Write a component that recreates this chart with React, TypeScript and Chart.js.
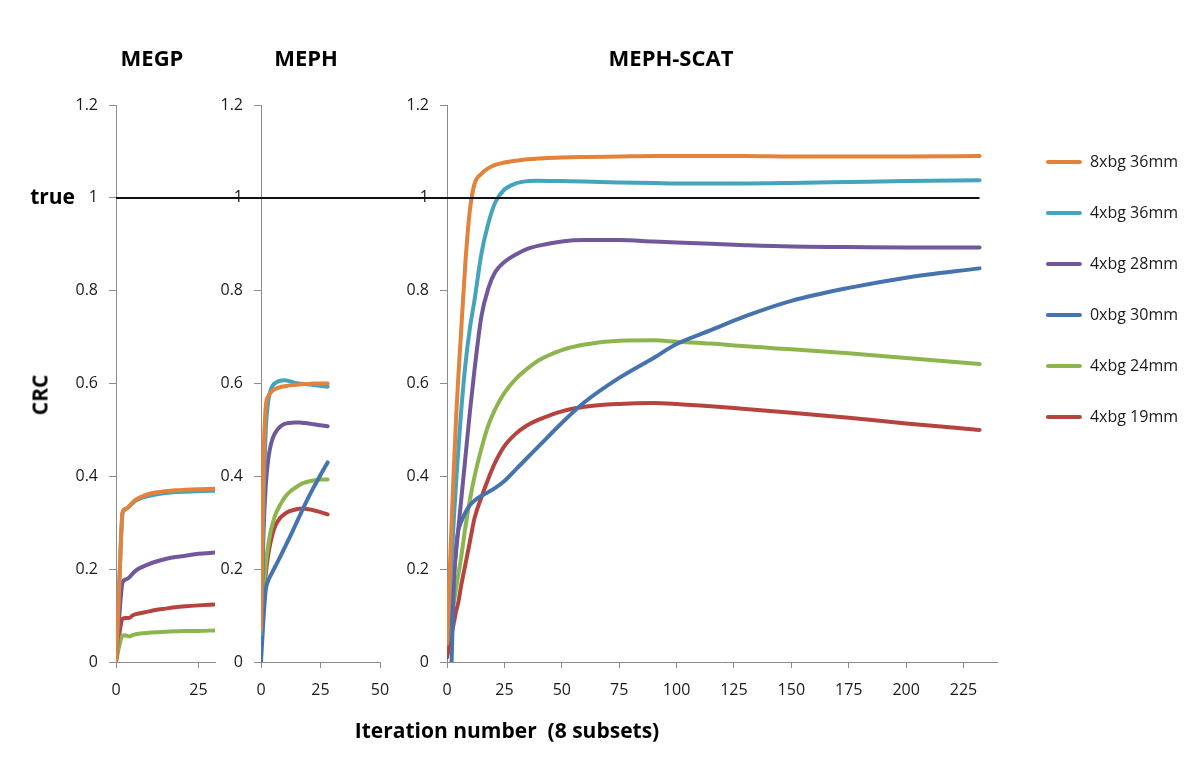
import React, { useEffect, useRef } from "react";
import { Chart, registerables } from "chart.js";

Chart.register(...registerables);

// ---------------- data ----------------
const SERIES_NAMES = ["8xbg 36mm", "4xbg 36mm", "4xbg 28mm", "0xbg 30mm", "4xbg 24mm", "4xbg 19mm"];
const SERIES_COLORS = ["#E3823B", "#45A3BC", "#71589A", "#4673AE", "#8DB54E", "#B5443F"];

const PANEL_TITLES = ["MEGP", "MEPH", "MEPH-SCAT"];
const Y_AXIS_TITLE = "CRC";
const X_AXIS_TITLE = "Iteration number  (8 subsets)";
const TRUE_LABEL = "true";
const TRUE_VALUE = 1;

const Y_TICKS = [0, 0.2, 0.4, 0.6, 0.8, 1, 1.2];
const MEGP_X_TICKS = [0, 25];
const MEPH_X_TICKS = [0, 25, 50];
const SCAT_X_TICKS = [0, 25, 50, 75, 100, 125, 150, 175, 200, 225];
const MEGP_X_MAX = 30;
const MEPH_X_MAX = 50;
const SCAT_X_MAX = 240;

// MEGP panel
const MEGP_ITER = [0, 1, 2, 3, 4, 5, 6, 8, 10, 12, 15, 18, 21, 25, 30];
const MEGP_8XBG_36 = [0, 0.17, 0.322, 0.33, 0.336, 0.344, 0.35, 0.357, 0.362, 0.365, 0.368, 0.37, 0.371, 0.372, 0.373];
const MEGP_4XBG_36 = [0, 0.17, 0.322, 0.33, 0.335, 0.342, 0.348, 0.354, 0.358, 0.361, 0.364, 0.366, 0.367, 0.368, 0.369];
const MEGP_4XBG_28 = [0, 0.1, 0.172, 0.178, 0.182, 0.19, 0.197, 0.205, 0.211, 0.216, 0.222, 0.226, 0.229, 0.233, 0.236];
const MEGP_4XBG_24 = [0, 0.035, 0.057, 0.057, 0.055, 0.058, 0.06, 0.062, 0.063, 0.064, 0.065, 0.066, 0.067, 0.067, 0.068];
const MEGP_4XBG_19 = [0, 0.06, 0.093, 0.095, 0.095, 0.1, 0.103, 0.106, 0.109, 0.112, 0.115, 0.118, 0.12, 0.122, 0.124];

// MEPH panel
const MEPH_ITER = [0, 1, 2, 3, 4, 5, 6, 8, 10, 12, 14, 16, 18, 20, 22, 25, 28];
const MEPH_8XBG_36 = [0.07, 0.42, 0.55, 0.572, 0.58, 0.585, 0.588, 0.592, 0.594, 0.596, 0.597, 0.598, 0.599, 0.599, 0.6, 0.6, 0.6];
const MEPH_4XBG_36 = [0.06, 0.33, 0.5, 0.56, 0.585, 0.596, 0.601, 0.606, 0.607, 0.605, 0.602, 0.6, 0.599, 0.598, 0.597, 0.595, 0.593];
const MEPH_4XBG_28 = [0.06, 0.27, 0.38, 0.435, 0.465, 0.483, 0.494, 0.507, 0.513, 0.515, 0.516, 0.516, 0.515, 0.514, 0.512, 0.51, 0.508];
const MEPH_0XBG_30 = [0, 0.09, 0.155, 0.175, 0.186, 0.196, 0.206, 0.226, 0.247, 0.268, 0.29, 0.312, 0.334, 0.355, 0.375, 0.403, 0.43];
const MEPH_4XBG_24 = [0.06, 0.14, 0.21, 0.25, 0.28, 0.3, 0.317, 0.338, 0.355, 0.366, 0.374, 0.381, 0.386, 0.389, 0.391, 0.393, 0.393];
const MEPH_4XBG_19 = [0.055, 0.13, 0.19, 0.23, 0.258, 0.278, 0.293, 0.31, 0.319, 0.325, 0.328, 0.33, 0.33, 0.329, 0.327, 0.323, 0.318];

// MEPH-SCAT panel
const SCAT_ITER = [0, 1, 2, 3, 4, 5, 6, 8, 10, 12, 15, 18, 21, 25, 30, 35, 40, 50, 60, 75, 90, 100, 115, 130, 150, 175, 200, 232];
const SCAT_8XBG_36 = [0.04, 0.17, 0.3, 0.42, 0.53, 0.62, 0.7, 0.86, 0.975, 1.03, 1.052, 1.064, 1.071, 1.076, 1.08, 1.083, 1.085, 1.087, 1.088, 1.089, 1.09, 1.09, 1.09, 1.09, 1.089, 1.089, 1.089, 1.09];
const SCAT_4XBG_36 = [0.04, 0.13, 0.22, 0.31, 0.39, 0.46, 0.53, 0.64, 0.72, 0.78, 0.88, 0.945, 0.99, 1.018, 1.031, 1.036, 1.037, 1.036, 1.035, 1.033, 1.032, 1.031, 1.031, 1.031, 1.032, 1.034, 1.036, 1.038];
const SCAT_4XBG_28 = [0.04, 0.09, 0.14, 0.19, 0.24, 0.29, 0.34, 0.44, 0.54, 0.63, 0.745, 0.805, 0.84, 0.862, 0.878, 0.89, 0.897, 0.906, 0.909, 0.909, 0.906, 0.904, 0.901, 0.898, 0.895, 0.894, 0.893, 0.893];
const SCAT_0XBG_30 = [null, null, 0, 0.17, 0.25, 0.285, 0.3, 0.322, 0.338, 0.348, 0.358, 0.366, 0.375, 0.39, 0.415, 0.44, 0.465, 0.515, 0.56, 0.612, 0.655, 0.685, 0.715, 0.745, 0.778, 0.806, 0.828, 0.848];
const SCAT_4XBG_24 = [0.04, 0.07, 0.1, 0.13, 0.16, 0.19, 0.22, 0.29, 0.35, 0.4, 0.46, 0.51, 0.545, 0.58, 0.61, 0.632, 0.65, 0.672, 0.684, 0.692, 0.693, 0.69, 0.686, 0.68, 0.674, 0.665, 0.655, 0.642];
const SCAT_4XBG_19 = [0.01, 0.035, 0.06, 0.085, 0.11, 0.13, 0.16, 0.21, 0.26, 0.31, 0.355, 0.395, 0.43, 0.465, 0.492, 0.51, 0.522, 0.54, 0.55, 0.556, 0.558, 0.556, 0.551, 0.545, 0.537, 0.526, 0.514, 0.5];

// ---------------- styling ----------------
const FONT = "'Open Sans', 'DejaVu Sans', sans-serif";
const AXIS_COLOR = "#8C8C8C";
const TEXT_COLOR = "#1A1A1A";
const CANVAS_H = 759;
const AREA_TOP = 105;
const X_AXIS_H = 97; // canvas bottom - chart area bottom

type SeriesDef = { idx: number; values: (number | null)[] };

type PanelDef = {
  left: number;
  width: number;
  yAxisWidth: number;
  padRight: number;
  iters: number[];
  series: SeriesDef[];
  xMax: number;
  xTicks: number[];
  trueFromAxis: boolean;
  trueToValue: number | null;
  trueLabel: string | null;
  legend: boolean;
};

const LAST_SCAT_ITER = SCAT_ITER[SCAT_ITER.length - 1];

const PANELS: PanelDef[] = [
  {
    left: 0, width: 225, yAxisWidth: 116, padRight: 10,
    iters: MEGP_ITER,
    series: [
      { idx: 0, values: MEGP_8XBG_36 },
      { idx: 1, values: MEGP_4XBG_36 },
      { idx: 2, values: MEGP_4XBG_28 },
      { idx: 4, values: MEGP_4XBG_24 },
      { idx: 5, values: MEGP_4XBG_19 },
    ],
    xMax: MEGP_X_MAX, xTicks: MEGP_X_TICKS,
    trueFromAxis: true, trueToValue: null, trueLabel: TRUE_LABEL, legend: false,
  },
  {
    left: 205, width: 200, yAxisWidth: 56, padRight: 25,
    iters: MEPH_ITER,
    series: [
      { idx: 0, values: MEPH_8XBG_36 },
      { idx: 1, values: MEPH_4XBG_36 },
      { idx: 2, values: MEPH_4XBG_28 },
      { idx: 3, values: MEPH_0XBG_30 },
      { idx: 4, values: MEPH_4XBG_24 },
      { idx: 5, values: MEPH_4XBG_19 },
    ],
    xMax: MEPH_X_MAX, xTicks: MEPH_X_TICKS,
    trueFromAxis: false, trueToValue: null, trueLabel: null, legend: false,
  },
  {
    left: 385, width: 815, yAxisWidth: 62, padRight: 25,
    iters: SCAT_ITER,
    series: [
      { idx: 0, values: SCAT_8XBG_36 },
      { idx: 1, values: SCAT_4XBG_36 },
      { idx: 2, values: SCAT_4XBG_28 },
      { idx: 3, values: SCAT_0XBG_30 },
      { idx: 4, values: SCAT_4XBG_24 },
      { idx: 5, values: SCAT_4XBG_19 },
    ],
    xMax: SCAT_X_MAX, xTicks: SCAT_X_TICKS,
    trueFromAxis: false, trueToValue: LAST_SCAT_ITER, trueLabel: null, legend: true,
  },
];

const LEGEND_DX = 13;
const LEGEND_DY = 14;
const TRUE_LABEL_RIGHT = 75;

function fmt(v: number): string {
  return String(Math.round(v * 10) / 10);
}

function makeChart(canvas: HTMLCanvasElement, p: PanelDef): Chart {
  const datasets = p.series.map((s) => ({
    label: SERIES_NAMES[s.idx],
    data: p.iters.map((x, i) => ({ x, y: s.values[i] })),
    borderColor: SERIES_COLORS[s.idx],
    backgroundColor: SERIES_COLORS[s.idx],
    borderWidth: 4,
    pointRadius: 0,
    cubicInterpolationMode: "monotone" as const,
    borderCapStyle: "round" as const,
    borderJoinStyle: "round" as const,
    spanGaps: false,
  }));

  const trueLine = {
    id: "trueLine",
    afterDatasetsDraw(chart: any) {
      const ctx = chart.ctx;
      const y = Math.round(chart.scales.y.getPixelForValue(TRUE_VALUE));
      const x0 = p.trueFromAxis ? chart.chartArea.left : 0;
      const x1 = p.trueToValue == null ? chart.width : chart.scales.x.getPixelForValue(p.trueToValue);
      ctx.save();
      ctx.fillStyle = "#111";
      ctx.fillRect(x0, y - 1, x1 - x0, 2);
      if (p.trueLabel) {
        ctx.fillStyle = "#000";
        ctx.font = `bold 21px ${FONT}`;
        ctx.textAlign = "right";
        ctx.textBaseline = "middle";
        ctx.fillText(p.trueLabel, TRUE_LABEL_RIGHT, y);
      }
      ctx.restore();
    },
  };

  const legendShift = {
    id: "legendShift",
    afterLayout(chart: any) {
      const l = chart.legend;
      if (!l || !p.legend) return;
      l.left += LEGEND_DX;
      l.right += LEGEND_DX;
      l.top += LEGEND_DY;
      l.bottom += LEGEND_DY;
    },
  };

  const tickFont = { family: FONT, size: 16 };

  return new Chart(canvas, {
    type: "line",
    data: { datasets },
    plugins: [trueLine, legendShift],
    options: {
      animation: false,
      responsive: false,
      maintainAspectRatio: false,
      events: [],
      layout: { padding: { top: AREA_TOP, bottom: 0, left: 0, right: p.padRight } },
      plugins: {
        legend: {
          display: p.legend,
          position: "right",
          align: "start",
          labels: {
            boxWidth: 36,
            boxHeight: 4,
            padding: 35,
            color: TEXT_COLOR,
            font: tickFont,
            generateLabels: (chart: any) =>
              Chart.defaults.plugins.legend.labels.generateLabels(chart).map((l: any) => ({
                ...l,
                lineWidth: 0,
                borderRadius: 2,
              })),
          },
        },
        tooltip: { enabled: false },
        title: { display: false },
      },
      scales: {
        x: {
          type: "linear",
          min: 0,
          max: p.xMax,
          afterBuildTicks: (axis: any) => {
            axis.ticks = p.xTicks.map((v) => ({ value: v }));
          },
          afterFit: (axis: any) => {
            axis.height = X_AXIS_H;
          },
          grid: { display: true, drawOnChartArea: false, drawTicks: true, tickLength: 6, color: AXIS_COLOR, lineWidth: 1 },
          border: { display: true, color: AXIS_COLOR, width: 1 },
          ticks: { font: tickFont, color: TEXT_COLOR, padding: 13, autoSkip: false, maxRotation: 0, callback: (v: any) => fmt(Number(v)) },
        },
        y: {
          type: "linear",
          min: 0,
          max: 1.2,
          afterBuildTicks: (axis: any) => {
            axis.ticks = Y_TICKS.map((v) => ({ value: v }));
          },
          afterFit: (axis: any) => {
            axis.width = p.yAxisWidth;
          },
          grid: { display: true, drawOnChartArea: false, drawTicks: true, tickLength: 7, color: AXIS_COLOR, lineWidth: 1 },
          border: { display: true, color: AXIS_COLOR, width: 1 },
          ticks: { font: tickFont, color: TEXT_COLOR, padding: 11, autoSkip: false, callback: (v: any) => fmt(Number(v)) },
        },
      },
    } as any,
  });
}

function Panel({ def }: { def: PanelDef }) {
  const ref = useRef<HTMLCanvasElement | null>(null);
  useEffect(() => {
    if (!ref.current) return;
    const chart = makeChart(ref.current, def);
    return () => chart.destroy();
  }, [def]);
  return (
    <canvas
      ref={ref}
      width={def.width}
      height={CANVAS_H}
      style={{ position: "absolute", left: def.left, top: 0, width: def.width, height: CANVAS_H }}
    />
  );
}

const TITLE_CENTERS = [152, 306, 671];
const TITLE_Y = 57;

export default function App() {
  const boldText: React.CSSProperties = {
    position: "absolute",
    fontFamily: FONT,
    fontWeight: 700,
    color: "#000",
    lineHeight: 1,
    whiteSpace: "pre",
    transform: "translate(-50%, -50%)",
  };
  return (
    <div style={{ position: "fixed", left: 0, top: 0, width: 1200, height: 759, background: "#fff", overflow: "hidden" }}>
      {PANELS.map((p, i) => (
        <Panel key={i} def={p} />
      ))}
      {PANEL_TITLES.map((t, i) => (
        <div key={t} style={{ ...boldText, left: TITLE_CENTERS[i], top: TITLE_Y, fontSize: 22 }}>
          {t}
        </div>
      ))}
      <div style={{ ...boldText, left: 40, top: 395, fontSize: 21, transform: "translate(-50%, -50%) rotate(-90deg)" }}>
        {Y_AXIS_TITLE}
      </div>
      <div style={{ ...boldText, left: 507, top: 730, fontSize: 21 }}>{X_AXIS_TITLE}</div>
    </div>
  );
}
